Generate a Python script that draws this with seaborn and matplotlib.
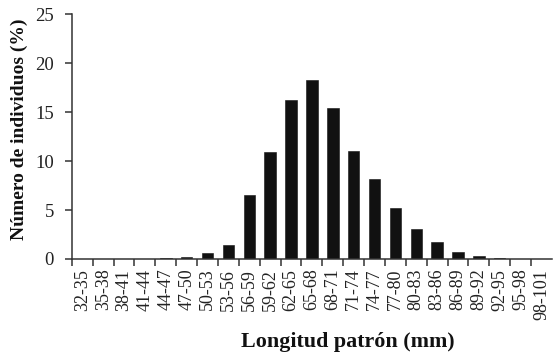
import matplotlib
matplotlib.use("Agg")
import matplotlib.pyplot as plt
import numpy as np
import pandas as pd
import seaborn as sns

# Length classes (mm) and percentage of individuals in each
clases = ["32-35", "35-38", "38-41", "41-44", "44-47", "47-50", "50-53", "53-56",
          "56-59", "59-62", "62-65", "65-68", "68-71", "71-74", "74-77", "77-80",
          "80-83", "83-86", "86-89", "89-92", "92-95", "95-98", "98-101"]
porcentaje = [0, 0, 0, 0, 0.1, 0.2, 0.6, 1.4,
              6.5, 10.9, 16.2, 18.3, 15.4, 11.0, 8.2, 5.2,
              3.1, 1.7, 0.7, 0.35, 0.15, 0, 0]
y_ticks = [0, 5, 10, 15, 20, 25]

df = pd.DataFrame({"clase": clases, "pct": porcentaje})

sns.set_style("ticks")
plt.rcParams["font.family"] = ["Liberation Serif", "DejaVu Serif"]

fig = plt.figure(figsize=(5.53, 3.56), dpi=100)
ax = fig.add_axes([0.130, 0.2725, 0.868, 0.688])

sns.barplot(data=df, x="clase", y="pct", color="#111111", width=0.55,
            saturation=1, edgecolor="#111111", linewidth=0.4, ax=ax)

ax.set_xlim(-0.5, len(clases) - 0.5)
ax.set_ylim(0, 25)
ax.set_yticks(y_ticks)
ax.set_yticklabels([str(v) for v in y_ticks], fontsize=13.5, color="#222222")

# labels centred on each class, tick marks on the class boundaries
ax.set_xticks(np.arange(len(clases)))
ax.set_xticklabels(clases, rotation=90, fontsize=13, color="#222222")
ax.tick_params(axis="x", which="major", length=0, pad=7)
ax.set_xticks(np.arange(-0.5, len(clases) - 1, 1.0), minor=True)
ax.tick_params(axis="x", which="minor", length=5, width=1.1, color="#333333",
               direction="out")
ax.tick_params(axis="y", length=5, width=1.1, color="#333333", pad=8)

for side in ("top", "right"):
    ax.spines[side].set_visible(False)
for side in ("left", "bottom"):
    ax.spines[side].set_linewidth(1.1)
    ax.spines[side].set_color("#333333")

ax.set_xlabel("Longitud patrón (mm)", fontsize=15.8, fontweight="bold",
              color="#111111", va="baseline")
ax.xaxis.set_label_coords(0.574, -0.359)
ax.set_ylabel("Número de individuos (%)", fontsize=14, fontweight="bold",
              color="#111111")
ax.yaxis.set_label_coords(-0.092, 0.529)

fig.savefig("out.png", dpi=100)
